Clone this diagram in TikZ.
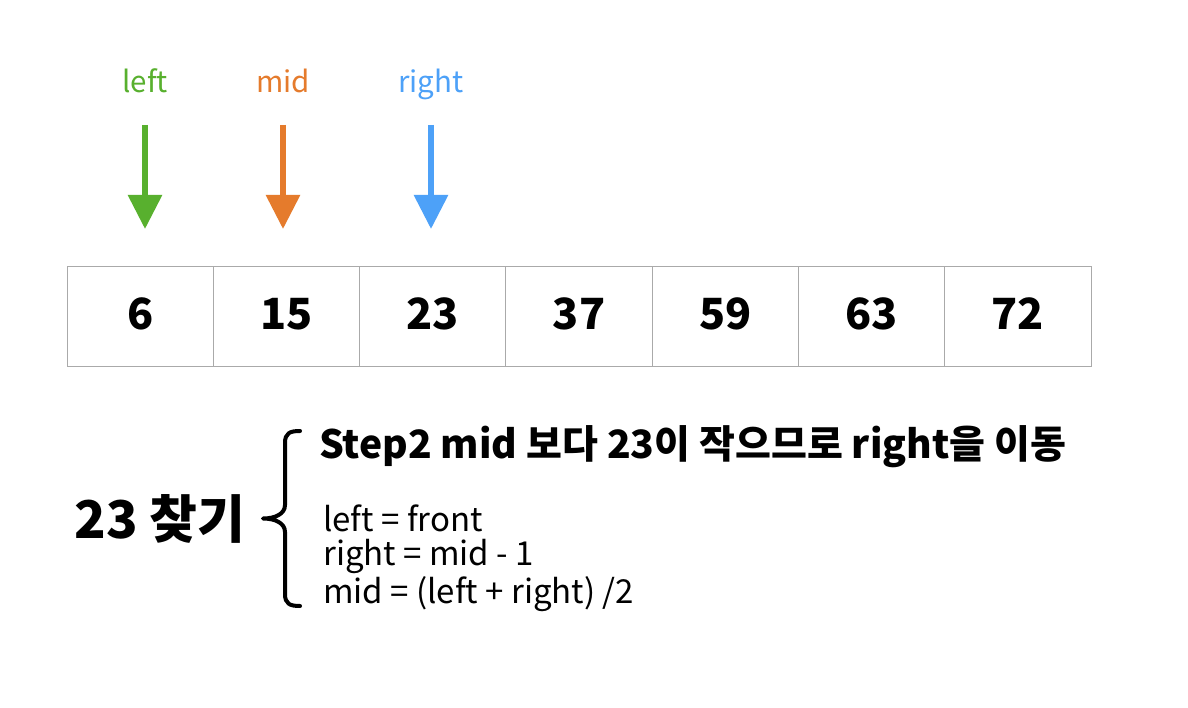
\documentclass[tikz,border=0pt]{standalone}
\usepackage{fontspec}
\setmainfont{Noto Sans CJK KR}
\usetikzlibrary{arrows.meta}
\definecolor{cgreen}{RGB}{88,176,46}
\definecolor{corange}{RGB}{229,123,44}
\definecolor{cblue}{RGB}{77,161,248}
\definecolor{cgrid}{RGB}{170,170,170}
\tikzset{
  ptrlabel/.style={font=\fontsize{29.5}{32}\selectfont, anchor=base, inner sep=0pt},
  ptrarrow/.style={line width=6pt, -{Triangle[width=33pt,length=34pt]}},
  cell/.style={draw=cgrid, line width=1pt, minimum width=146.3pt, minimum height=99pt, inner sep=0pt},
  cellnum/.style={inner sep=0pt, font=\bfseries\fontsize{43}{48}\selectfont},
  codeline/.style={anchor=west, inner sep=0pt, font=\fontsize{33}{36}\selectfont},
}
\begin{document}
\begin{tikzpicture}[x=1pt,y=-1pt]
\useasboundingbox[fill=white] (0,0) rectangle (1188,708);
% pointer labels
\node[ptrlabel, text=cgreen] (lleft) at (145,93) {left};
\node[ptrlabel, text=corange] (lmid) at (283,93) {mid};
\node[ptrlabel, text=cblue] (lright) at (431,93) {right};
% arrows
\coordinate (aL1) at (145,125); \coordinate (aL2) at (145,229);
\coordinate (aM1) at (283,125); \coordinate (aM2) at (283,229);
\coordinate (aR1) at (431,125); \coordinate (aR2) at (431,229);
\draw[ptrarrow, cgreen] (aL1) -- (aL2);
\draw[ptrarrow, corange] (aM1) -- (aM2);
\draw[ptrarrow, cblue] (aR1) -- (aR2);
% array cells
\foreach \v [count=\i] in {6,15,23,37,59,63,72} {
  \node[cell] (c\i) at ({67+146.3*(\i-0.5)},316.5) {};
  \node[cellnum] (n\i) at ({67+146.3*(\i-0.5)},314) {\v};
}
% search label
\node[anchor=center, inner sep=0pt, font=\bfseries\fontsize{52}{56}\selectfont] (find) at (160,519) {23 찾기};
% brace
\coordinate (bt) at (300,431);
\coordinate (bb) at (300,606);
\coordinate (bm) at (263,518.5);
\draw[line width=4pt, line cap=round, line join=round]
  (bt) .. controls (290,431) and (285,433) .. (285,443)
  -- (285,505) .. controls (285,514) and (275,518.5) .. (bm)
  .. controls (275,518.5) and (285,523) .. (285,532)
  -- (285,594) .. controls (285,604) and (290,606) .. (bb);
% step title
\node[anchor=west, inner sep=0pt, font=\bfseries\fontsize{39}{42}\selectfont] (title) at (319,447) {Step2 mid 보다 23이 작으므로 right을 이동};
% code lines
\node[codeline] (l1) at (323,518) {left = front};
\node[codeline] (l2) at (323,556) {right = mid - 1};
\node[codeline] (l3) at (323,594) {mid = (left + right) /2};
\end{tikzpicture}
\end{document}
